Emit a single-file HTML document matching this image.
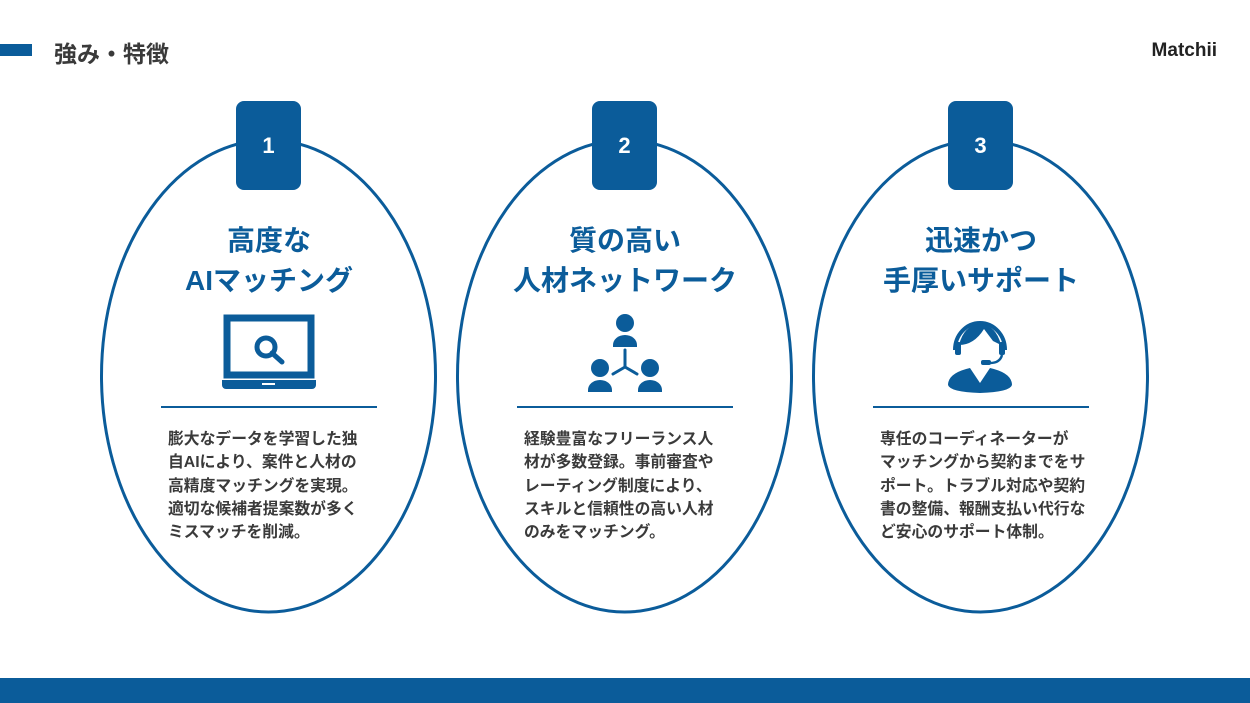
<!DOCTYPE html>
<html><head><meta charset="utf-8"><style>
body{margin:0;width:1250px;height:703px;background:#fff;position:relative;overflow:hidden;font-family:"Liberation Sans","Noto Sans CJK JP",sans-serif}
.a{position:absolute}
.t{position:absolute;width:336px;text-align:center;color:#0b5c9a;font-weight:bold;font-size:28px;line-height:40px}
.b{position:absolute;width:200px;color:#3a3a3a;font-weight:bold;font-size:15.8px;line-height:23.3px;white-space:nowrap}
.n{position:absolute;top:101px;width:65px;height:89px;background:#0b5c9a;border-radius:8px;color:#fff;font-weight:bold;font-size:22px;line-height:89px;text-align:center}
.l{position:absolute;top:406px;width:216px;height:2px;background:#0b5c9a}
</style></head><body>
<div class="a" style="left:0;top:44px;width:32px;height:12px;background:#0b5c9a"></div>
<div class="a" style="left:54px;top:35px;font-size:23px;font-weight:bold;color:#3a3a3a">強み・特徴</div>
<div class="a" style="right:33px;top:40px;font-size:19px;font-weight:bold;color:#222">Matchii</div>
<div class="a" style="left:0;top:678px;width:1250px;height:25px;background:#0b5c9a"></div>
<svg class="a" style="left:0;top:0" width="1250" height="703">
<g fill="none" stroke="#0b5c9a" stroke-width="3">
<ellipse cx="268.5" cy="376" rx="167" ry="236"/>
<ellipse cx="624.5" cy="376" rx="167" ry="236"/>
<ellipse cx="980.5" cy="376" rx="167" ry="236"/>
</g>
<g fill="#0b5c9a">
<rect x="227" y="318" width="84" height="57" fill="none" stroke="#0b5c9a" stroke-width="7"/>
<path d="M222 380h94v5a4 4 0 0 1-4 4h-86a4 4 0 0 1-4-4z"/>
<rect x="262" y="383" width="13" height="2" fill="#fff"/>
<circle cx="266" cy="347" r="9" fill="none" stroke="#0b5c9a" stroke-width="5"/>
<line x1="272" y1="353" x2="282" y2="362" stroke="#0b5c9a" stroke-width="5" stroke-linecap="round"/>
<circle cx="625" cy="323" r="9"/><path d="M613 345a12 10 0 0 1 24 0v2h-24z"/>
<circle cx="600" cy="368" r="9"/><path d="M588 390a12 10 0 0 1 24 0v2h-24z"/>
<circle cx="650" cy="368" r="9"/><path d="M638 390a12 10 0 0 1 24 0v2h-24z"/>
<path d="M625 350v17M625 367l-12 7M625 367l12 7" stroke="#0b5c9a" stroke-width="3" stroke-linecap="round"/>
<path d="M955 350a25 27 0 0 1 50 0" fill="none" stroke="#0b5c9a" stroke-width="4"/>
<path d="M959 345q5-20 21-21q16 1 21 21l-8-4l-9-12q-10 16-25 16z"/>
<rect x="955" y="342" width="6" height="13" rx="2"/><rect x="999" y="342" width="6" height="13" rx="2"/>
<path d="M1002 355q-2 8-12 8" fill="none" stroke="#0b5c9a" stroke-width="2.5"/>
<rect x="981" y="360" width="10" height="5" rx="2"/>
<path d="M948 385q0-12 22-17l10 15l10-15q22 5 22 17q-2 7-32 8q-30-1-32-8z"/>
</g>
</svg>
<div class="n" style="left:236px">1</div>
<div class="n" style="left:592px">2</div>
<div class="n" style="left:948px">3</div>
<div class="t" style="left:101px;top:221px">高度な<br>AIマッチング</div>
<div class="t" style="left:457px;top:221px">質の高い<br>人材ネットワーク</div>
<div class="t" style="left:813px;top:221px">迅速かつ<br>手厚いサポート</div>
<div class="l" style="left:161px"></div>
<div class="l" style="left:517px"></div>
<div class="l" style="left:873px"></div>
<div class="b" style="left:168px;top:428px">膨大なデータを学習した独<br>自AIにより、案件と人材の<br>高精度マッチングを実現。<br>適切な候補者提案数が多く<br>ミスマッチを削減。</div>
<div class="b" style="left:524px;top:428px">経験豊富なフリーランス人<br>材が多数登録。事前審査や<br>レーティング制度により、<br>スキルと信頼性の高い人材<br>のみをマッチング。</div>
<div class="b" style="left:880px;top:428px">専任のコーディネーターが<br>マッチングから契約までをサ<br>ポート。トラブル対応や契約<br>書の整備、報酬支払い代行な<br>ど安心のサポート体制。</div>
</body></html>
